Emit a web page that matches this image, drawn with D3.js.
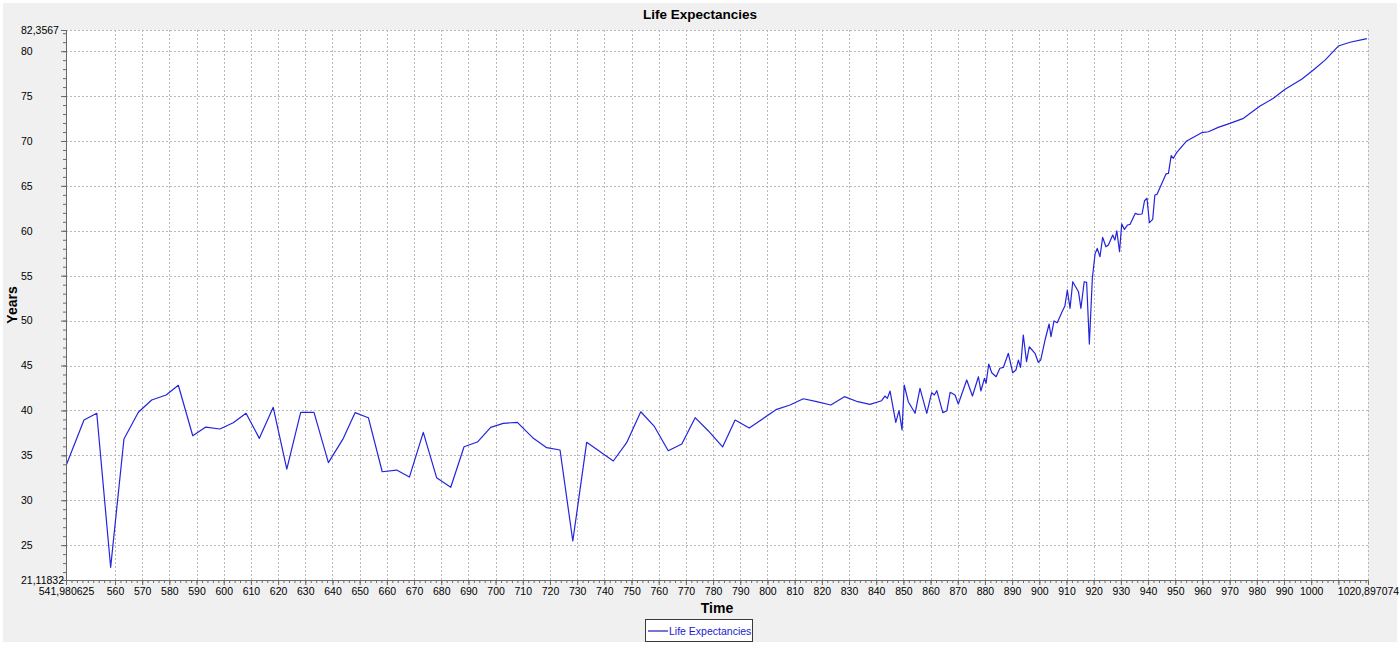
<!DOCTYPE html>
<html>
<head>
<meta charset="utf-8">
<script src="https://cdn.jsdelivr.net/npm/d3@7"></script>
<style>
  html, body { margin: 0; padding: 0; background: #ffffff; }
  svg { display: block; font-family: "Liberation Sans", Arial, sans-serif; }
</style>
</head>
<body>
<div id="chart"></div>
<script>
// Sample times (x) and life expectancy in years (y)
const times = [
  542.2, 548.6, 553.3, 558.4, 563.3, 568.6, 573.5, 578.8, 583.3, 588.6,
  593.4, 598.6, 603.5, 608.2, 613.1, 618.2, 623.2, 628.3, 633.2, 638.5,
  644.0, 648.3, 653.2, 658.3, 663.6, 668.3, 673.4, 678.3, 683.5, 688.4,
  693.3, 698.2, 702.8, 708.0, 713.9, 718.8, 723.7, 728.4, 733.5, 743.3,
  748.2, 753.4, 758.3, 763.5, 768.5, 773.4, 778.2, 783.5, 788.1, 793.3,
  803.4, 808.3, 813.2, 818.1, 823.3, 828.3, 833.2, 837.7, 842.0, 843.2,
  844.1, 845.1, 847.2, 848.4, 849.5, 850.3, 851.8, 854.3, 856.1, 858.6,
  860.4, 861.4, 862.3, 864.5, 866.0, 867.2, 869.0, 870.2, 873.3, 875.4,
  877.6, 878.5, 879.8, 880.4, 881.4, 882.5, 884.1, 885.5, 886.8, 888.6,
  890.2, 891.4, 892.3, 893.1, 894.1, 895.3, 896.3, 898.4, 899.6, 900.5,
  902.1, 903.6, 904.3, 905.4, 906.6, 908.2, 909.4, 910.3, 911.3, 912.3,
  914.4, 915.3, 916.5, 917.4, 918.4, 919.5, 920.5, 921.3, 922.3, 923.3,
  924.5, 925.4, 927.0, 927.8, 928.5, 929.5, 930.3, 931.3, 932.4, 933.4,
  935.3, 936.2, 937.8, 938.7, 939.6, 940.5, 941.7, 942.5, 943.3, 946.6,
  947.5, 948.5, 949.3, 950.5, 954.2, 959.7, 962.2, 965.8, 970.1, 975.1,
  981.2, 986.1, 990.4, 996.5, 1000.8, 1005.1, 1010.0, 1014.3, 1019.2, 1020.5
]
const lifeExpectancies = [
  34.0, 38.93, 39.68, 22.53, 36.82, 39.79, 41.16, 41.72, 42.80, 37.18,
  38.15, 37.93, 38.63, 39.68, 36.89, 40.35, 33.47, 39.79, 39.79, 34.18,
  36.89, 39.75, 39.19, 33.17, 33.36, 32.58, 37.56, 32.51, 31.44, 35.96,
  36.48, 38.12, 38.56, 38.67, 36.89, 35.85, 35.59, 25.46, 36.45, 34.37,
  36.41, 39.85, 38.26, 35.51, 36.26, 39.19, 37.74, 35.93, 38.93, 38.04,
  40.12, 40.60, 41.30, 40.97, 40.60, 41.53, 40.97, 40.68, 41.08, 41.60,
  41.34, 42.16, 38.67, 39.97, 37.82, 42.83, 40.97, 39.68, 42.46, 39.68,
  41.97, 41.72, 42.20, 39.75, 39.97, 42.02, 41.72, 40.72, 43.39, 41.60,
  43.75, 42.16, 43.57, 43.02, 45.17, 44.20, 43.75, 44.69, 44.80, 46.36,
  44.20, 44.50, 45.61, 44.80, 48.40, 45.43, 47.09, 46.36, 45.36, 45.61,
  47.84, 49.62, 48.21, 49.96, 49.76, 50.87, 51.62, 53.41, 51.37, 54.33,
  53.22, 51.37, 54.33, 54.26, 47.39, 54.71, 57.41, 58.04, 57.11, 59.27,
  58.23, 58.42, 59.53, 58.97, 60.00, 57.67, 60.76, 60.16, 60.64, 60.72,
  61.95, 61.83, 61.87, 63.35, 63.62, 60.90, 61.28, 63.99, 64.06, 66.33,
  66.40, 68.36, 68.07, 68.70, 70.00, 70.92, 71.03, 71.52, 71.96, 72.52,
  73.89, 74.75, 75.75, 76.87, 77.90, 79.00, 80.57, 80.99, 81.32, 81.40
]

// Axis bounds and tick values
const xBounds = [541.980625, 1020.897074]
const yBounds = [21.11832, 82.3567]
const xTicks = [560, 570, 580, 590, 600, 610, 620, 630, 640, 650, 660, 670, 680, 690,
  700, 710, 720, 730, 740, 750, 760, 770, 780, 790, 800, 810, 820, 830, 840, 850, 860,
  870, 880, 890, 900, 910, 920, 930, 940, 950, 960, 970, 980, 990, 1000, 1010]
const xHiddenLabels = [1010]
const yTicks = [25, 30, 35, 40, 45, 50, 55, 60, 65, 70, 75, 80]

const seriesName = 'Life Expectancies'
const data = times.map((t, i) => ({ t, v: lifeExpectancies[i] }))

const W = 1400, H = 645
const margin = { left: 66, right: 32, top: 30, bottom: 65 }
const lineColor = '#2424dc'
const axisColor = '#6a6a6a'
const gridColor = '#b9b9b9'
const fmt = d => String(d).replace('.', ',')

const svg = d3.select('#chart').append('svg')
  .attr('width', W)
  .attr('height', H)

// Panel background
svg.append('rect')
  .attr('x', 3).attr('y', 3)
  .attr('width', W - 6).attr('height', H - 6)
  .attr('fill', '#f0f0f0')

const x = d3.scaleLinear().domain(xBounds).range([margin.left, W - margin.right])
const y = d3.scaleLinear().domain(yBounds).range([H - margin.bottom, margin.top])

// Plot area
svg.append('rect')
  .attr('x', x.range()[0]).attr('y', y.range()[1])
  .attr('width', x.range()[1] - x.range()[0])
  .attr('height', y.range()[0] - y.range()[1])
  .attr('fill', '#ffffff')

// Grid lines
const grid = svg.append('g')
  .attr('stroke', gridColor)
  .attr('stroke-dasharray', '2,2')
  .attr('stroke-width', 1)

grid.selectAll('.vgrid')
  .data(xTicks.concat([xBounds[1]]))
  .enter()
  .append('line')
  .attr('x1', d => Math.round(x(d)) + 0.5)
  .attr('x2', d => Math.round(x(d)) + 0.5)
  .attr('y1', y.range()[0])
  .attr('y2', y.range()[1])

grid.selectAll('.hgrid')
  .data(yTicks.concat([yBounds[1]]))
  .enter()
  .append('line')
  .attr('y1', d => Math.round(y(d)) + 0.5)
  .attr('y2', d => Math.round(y(d)) + 0.5)
  .attr('x1', x.range()[0])
  .attr('x2', x.range()[1])

// The series line
const line = d3.line()
  .x(d => x(d.t))
  .y(d => y(d.v))

svg.append('path')
  .datum(data)
  .attr('fill', 'none')
  .attr('stroke', lineColor)
  .attr('stroke-width', 1.2)
  .attr('stroke-linejoin', 'round')
  .attr('d', line)

// Minor ticks
const xMinor = d3.range(544, 1021, 2)
const yMinor = d3.range(22, 83, 1)

const styleAxis = g => {
  g.select('.domain').attr('stroke', axisColor)
  g.selectAll('.tick line').attr('stroke', axisColor)
  g.selectAll('text')
    .attr('fill', '#000')
    .style('font-size', '10.5px')
    .style('font-family', '"Liberation Sans", Arial, sans-serif')
}

svg.append('g')
  .attr('transform', `translate(0, ${y.range()[0]})`)
  .call(d3.axisBottom(x).tickValues(xMinor).tickSize(3).tickFormat(''))
  .call(styleAxis)

svg.append('g')
  .attr('transform', `translate(${x.range()[0]}, 0)`)
  .call(d3.axisLeft(y).tickValues(yMinor).tickSize(3).tickFormat(''))
  .call(styleAxis)

// Major X axis
svg.append('g')
  .attr('transform', `translate(0, ${y.range()[0]})`)
  .call(d3.axisBottom(x)
    .tickValues([xBounds[0]].concat(xTicks, [xBounds[1]]))
    .tickSize(5)
    .tickPadding(3)
    .tickFormat(d => xHiddenLabels.includes(d) ? '' : fmt(d)))
  .call(styleAxis)

// Major Y axis, labels left aligned
svg.append('g')
  .attr('transform', `translate(${x.range()[0]}, 0)`)
  .call(d3.axisLeft(y)
    .tickValues([yBounds[0]].concat(yTicks, [yBounds[1]]))
    .tickSize(5)
    .tickFormat(fmt))
  .call(styleAxis)
  .call(g => g.selectAll('text')
    .attr('text-anchor', 'start')
    .attr('x', 21 - x.range()[0]))

// Title and axis labels
svg.append('text')
  .attr('x', 700).attr('y', 19)
  .attr('text-anchor', 'middle')
  .style('font-weight', 'bold')
  .style('font-size', '13.5px')
  .text(seriesName)

svg.append('text')
  .attr('x', (x.range()[0] + x.range()[1]) / 2).attr('y', 613)
  .attr('text-anchor', 'middle')
  .style('font-weight', 'bold')
  .style('font-size', '14px')
  .text('Time')

svg.append('text')
  .attr('transform', `translate(17, ${(y.range()[0] + y.range()[1]) / 2}) rotate(-90)`)
  .attr('text-anchor', 'middle')
  .style('font-weight', 'bold')
  .style('font-size', '14px')
  .text('Years')

// Legend
const legend = svg.append('g').attr('transform', 'translate(645, 619)')
legend.append('rect')
  .attr('x', 0.5).attr('y', 0.5)
  .attr('width', 107).attr('height', 22)
  .attr('fill', '#ffffff')
  .attr('stroke', '#3a3a3a')
  .attr('stroke-width', 1)
legend.append('line')
  .attr('x1', 3).attr('x2', 23)
  .attr('y1', 12).attr('y2', 12)
  .attr('stroke', '#1a1ab0')
  .attr('stroke-width', 1.2)
legend.append('text')
  .attr('x', 24).attr('y', 16)
  .attr('fill', '#1a1ad0')
  .style('font-size', '10.5px')
  .text(seriesName)
</script>
</body>
</html>
